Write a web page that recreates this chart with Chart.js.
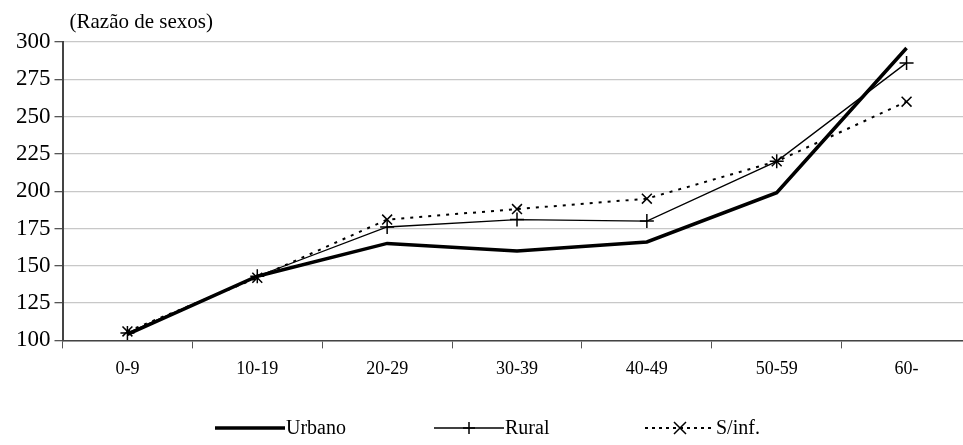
<!DOCTYPE html>
<html>
<head>
<meta charset="utf-8">
<script src="https://cdn.jsdelivr.net/npm/chart.js@4"></script>
<style>
  html, body { margin: 0; padding: 0; background: #fff; overflow: hidden; }
  #wrap { width: 980px; height: 445px; }
</style>
</head>
<body>
<div id="wrap"><canvas id="myChart"></canvas></div>
<script>
const categories = ['0-9', '10-19', '20-29', '30-39', '40-49', '50-59', '60-'];
const urbano = [104, 143, 165, 160, 166, 199, 296];
const rural = [105, 143, 176, 181, 180, 220, 286];
const semInf = [106, 142, 181, 188, 195, 220, 260];
const yTicks = [100, 125, 150, 175, 200, 225, 250, 275, 300];

const serif = '"Liberation Serif", "Times New Roman", serif';

// titulo do eixo e legenda desenhados a mao
const extras = {
  id: 'extras',
  afterDraw(chart) {
    const c = chart.ctx;
    const area = chart.chartArea;
    c.save();
    c.fillStyle = '#000';
    c.font = '21px ' + serif;
    c.textBaseline = 'middle';
    c.fillText('(Razão de sexos)', area.left + 7, 22);

    const y = 428;
    c.font = '20px ' + serif;
    const items = [
      { label: 'Urbano', x: 215, width: 3.5, dash: [], marker: null },
      { label: 'Rural', x: 434, width: 1.3, dash: [], marker: 'plus' },
      { label: 'S/inf.', x: 645, width: 2, dash: [3, 4], marker: 'x' }
    ];
    items.forEach(it => {
      c.beginPath();
      c.lineWidth = it.width;
      c.setLineDash(it.dash);
      c.strokeStyle = '#000';
      c.moveTo(it.x, y);
      c.lineTo(it.x + 70, y);
      c.stroke();
      c.setLineDash([]);
      const mx = it.x + 35;
      c.lineWidth = 1.5;
      if (it.marker === 'plus') {
        c.beginPath();
        c.moveTo(mx - 6, y); c.lineTo(mx + 6, y);
        c.moveTo(mx, y - 6); c.lineTo(mx, y + 6);
        c.stroke();
      } else if (it.marker === 'x') {
        c.beginPath();
        c.moveTo(mx - 6, y - 6); c.lineTo(mx + 6, y + 6);
        c.moveTo(mx + 6, y - 6); c.lineTo(mx - 6, y + 6);
        c.stroke();
      }
      c.fillText(it.label, it.x + 71, y + 1);
    });
    c.restore();
  }
};

new Chart(document.getElementById('myChart'), {
  type: 'line',
  data: {
    labels: categories,
    datasets: [{
      label: 'Urbano',
      data: urbano,
      borderColor: '#000',
      borderWidth: 3.5,
      pointRadius: 0,
      tension: 0
    },
    {
      label: 'Rural',
      data: rural,
      borderColor: '#000',
      borderWidth: 1.3,
      pointStyle: 'cross',
      pointRadius: 7,
      pointBorderWidth: 1.5,
      pointBorderColor: '#000',
      tension: 0
    },
    {
      label: 'S/inf.',
      data: semInf,
      borderColor: '#000',
      borderWidth: 2,
      borderDash: [3, 6],
      pointStyle: 'crossRot',
      pointRadius: 7,
      pointBorderWidth: 1.5,
      pointBorderColor: '#000',
      tension: 0
    }]
  },
  options: {
    responsive: true,
    maintainAspectRatio: false,
    animation: false,
    layout: {
      padding: { top: 42, right: 0, bottom: 55, left: 12 }
    },
    plugins: {
      legend: { display: false },
      tooltip: { enabled: false }
    },
    scales: {
      x: {
        offset: true,
        grid: {
          offset: true,
          drawOnChartArea: false,
          color: '#555',
          tickLength: 8
        },
        border: { color: '#444', width: 1.5 },
        ticks: {
          color: '#000',
          font: { family: serif, size: 18 },
          padding: 10,
          maxRotation: 0
        }
      },
      y: {
        min: 100,
        max: 300,
        afterBuildTicks: axis => { axis.ticks = yTicks.map(v => ({ value: v })); },
        grid: {
          color: '#c8c8c8',
          lineWidth: 1.3,
          tickLength: 8,
          tickColor: '#555'
        },
        border: { color: '#444', width: 2 },
        ticks: {
          color: '#000',
          font: { family: serif, size: 23 },
          padding: 4
        }
      }
    }
  },
  plugins: [extras]
});
</script>
</body>
</html>
